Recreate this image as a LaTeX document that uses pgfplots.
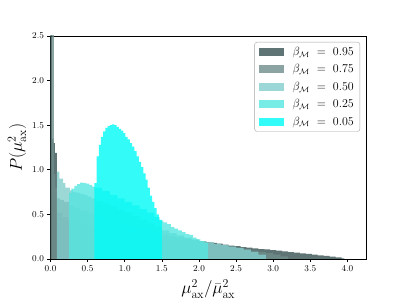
\documentclass[border=0pt]{standalone}
\usepackage{pgfplots}
\pgfplotsset{compat=1.18}
\definecolor{c95}{RGB}{55,82,82}
\definecolor{c75}{RGB}{111,142,140}
\definecolor{c50}{RGB}{130,206,204}
\definecolor{c25}{RGB}{86,230,224}
\definecolor{c05}{RGB}{0,251,246}
\begin{document}
\begin{tikzpicture}
\path[use as bounding box] (0,0) rectangle (407bp,305bp);
\begin{axis}[
  at={(50.5bp,46bp)}, anchor=south west,
  width=315.5bp, height=223bp, scale only axis,
  xmin=0, xmax=4.25, ymin=0, ymax=2.5,
  xtick={0,0.5,...,4}, ytick={0,0.5,...,2.5},
  xticklabel style={/pgf/number format/.cd, fixed, fixed zerofill, precision=1},
  yticklabel style={/pgf/number format/.cd, fixed, fixed zerofill, precision=1},
  tick label style={font=\fontsize{9}{10}\selectfont},
  xtick pos=bottom, ytick pos=left,
  tick align=outside, major tick length=3bp,
  axis line style={line width=0.9bp},
  every tick/.style={line width=0.7bp, black},
  const plot,
  xlabel={$\mu_{\rm ax}^2/\bar{\mu}_{\rm ax}^2$},
  ylabel={$P(\mu_{\rm ax}^2)$},
  label style={font=\fontsize{17}{20}\selectfont},
  xlabel style={at={(axis description cs:0.5,-0.078)}, anchor=north},
  ylabel style={at={(axis description cs:-0.106,0.5)}, anchor=center, rotate=0},
  legend image code/.code={\fill[#1, sharp corners] (0bp,-4bp) rectangle (25bp,4bp);},
  legend cell align=left,
  legend style={at={(axis description cs:1,1)}, anchor=north east, xshift=-6bp, yshift=-6bp,
    draw=black!35, rounded corners=2.5bp, fill=white,
    font=\fontsize{11.5}{13}\selectfont, row sep=3.6bp, inner xsep=4bp, inner ysep=3bp,
    /tikz/every odd column/.append style={column sep=7bp}},
]
\addplot[draw=none, fill=c95, fill opacity=0.8] coordinates {
(0,3.0) (0.02,1.35) (0.04,1.30) (0.06,1.19) (0.085,0.52) (0.16,0.47) (0.24,0.43) (0.32,0.41) (0.40,0.39) (0.48,0.37) (0.56,0.36) (0.64,0.35) (0.72,0.34) (0.80,0.33) (0.88,0.32) (0.96,0.31) (1.04,0.30) (1.12,0.29) (1.20,0.285) (1.28,0.28) (1.36,0.27) (1.44,0.26) (1.52,0.25) (1.60,0.24) (1.68,0.235) (1.76,0.225) (1.84,0.215) (1.92,0.205) (2.00,0.195) (2.08,0.185) (2.16,0.18) (2.24,0.172) (2.32,0.16) (2.40,0.15) (2.48,0.145) (2.56,0.132) (2.64,0.128) (2.72,0.12) (2.80,0.112) (2.88,0.108) (2.96,0.10) (3.04,0.095) (3.12,0.085) (3.20,0.078) (3.28,0.072) (3.36,0.062) (3.44,0.058) (3.52,0.05) (3.60,0.042) (3.68,0.035) (3.76,0.028) (3.84,0.018) (3.92,0.008) (3.96,0)
} \closedcycle;
\addlegendentry{$\beta_{\mathcal{M}}\ =\ 0.95$}
\addplot[draw=none, fill=c75, fill opacity=0.8] coordinates {
(0.02,3.0) (0.045,0.95) (0.065,0.8) (0.085,0.68) (0.13,0.66) (0.18,0.64) (0.25,0.6) (0.32,0.57) (0.4,0.54) (0.5,0.51) (0.6,0.48) (0.7,0.45) (0.8,0.42) (0.9,0.40) (1.0,0.38) (1.1,0.36) (1.2,0.34) (1.3,0.32) (1.4,0.30) (1.5,0.28) (1.6,0.26) (1.7,0.245) (1.8,0.23) (1.9,0.215) (2.0,0.2) (2.1,0.185) (2.2,0.17) (2.3,0.155) (2.4,0.14) (2.5,0.125) (2.6,0.11) (2.7,0.095) (2.8,0.08) (2.9,0.065) (3.0,0.05) (3.1,0.03) (3.2,0)
} \closedcycle;
\addlegendentry{$\beta_{\mathcal{M}}\ =\ 0.75$}
\addplot[draw=none, fill=c50, fill opacity=0.8] coordinates {
(0.085,0.98) (0.12,0.90) (0.17,0.85) (0.2,0.80) (0.26,0.77) (0.3,0.75) (0.35,0.74) (0.4,0.73) (0.45,0.72) (0.5,0.70) (0.55,0.68) (0.6,0.65) (0.7,0.62) (0.8,0.59) (0.9,0.55) (1.0,0.52) (1.1,0.48) (1.2,0.44) (1.3,0.40) (1.4,0.36) (1.5,0.32) (1.6,0.29) (1.7,0.265) (1.8,0.24) (1.9,0.22) (2.0,0.20) (2.1,0.185) (2.2,0.17) (2.3,0.155) (2.4,0.14) (2.5,0.125) (2.6,0.105) (2.7,0.08) (2.8,0.05) (2.9,0)
} \closedcycle;
\addlegendentry{$\beta_{\mathcal{M}}\ =\ 0.50$}
\addplot[draw=none, fill=c25, fill opacity=0.8] coordinates {
(0.25,0.74) (0.28,0.79) (0.32,0.82) (0.36,0.84) (0.40,0.855) (0.44,0.85) (0.48,0.845) (0.52,0.83) (0.56,0.81) (0.60,0.80) (0.7,0.76) (0.8,0.72) (0.9,0.68) (1.0,0.64) (1.1,0.60) (1.2,0.56) (1.3,0.52) (1.4,0.47) (1.47,0.43) (1.52,0.41) (1.57,0.39) (1.62,0.36) (1.67,0.34) (1.72,0.32) (1.77,0.30) (1.82,0.28) (1.87,0.27) (1.92,0.24) (1.97,0.22) (2.02,0.20) (2.07,0.18) (2.12,0)
} \closedcycle;
\addlegendentry{$\beta_{\mathcal{M}}\ =\ 0.25$}
\addplot[draw=none, fill=c05, fill opacity=0.8] coordinates {
(0.59,0.85) (0.62,1.15) (0.65,1.28) (0.68,1.37) (0.71,1.43) (0.74,1.47) (0.77,1.49) (0.80,1.50) (0.83,1.51) (0.86,1.50) (0.89,1.48) (0.92,1.46) (0.95,1.44) (0.98,1.41) (1.01,1.37) (1.04,1.34) (1.07,1.30) (1.10,1.26) (1.13,1.21) (1.16,1.15) (1.19,1.09) (1.22,1.03) (1.25,0.96) (1.28,0.89) (1.31,0.80) (1.34,0.71) (1.37,0.64) (1.40,0.57) (1.43,0.50) (1.46,0.44) (1.50,0)
} \closedcycle;
\addlegendentry{$\beta_{\mathcal{M}}\ =\ 0.05$}
\end{axis}
\end{tikzpicture}
\end{document}
